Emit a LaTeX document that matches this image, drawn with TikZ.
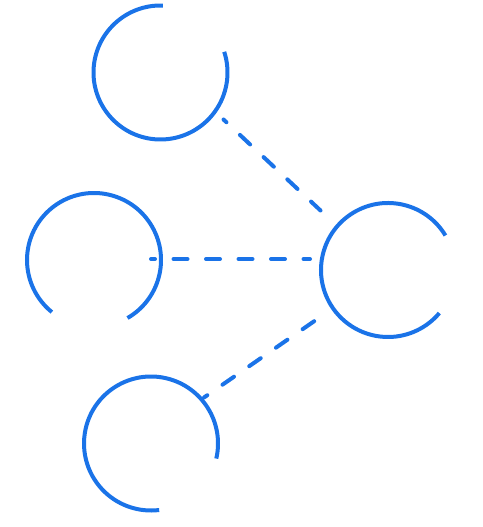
\documentclass[tikz,border=0pt]{standalone}
\usetikzlibrary{positioning}
\definecolor{ringblue}{HTML}{1A73E8}
\tikzset{
    ring/.style = {line width=3pt, draw=ringblue, line cap=butt},
    edgebd/.style = {-, line width=3pt, draw=ringblue, line cap=round, dash pattern=on 10.5pt off 13.875pt, dash phase=7.5pt}, % link
}
\begin{document}
\begin{tikzpicture}[x=0.75pt,y=0.75pt]
  \useasboundingbox (0,0) rectangle (482,-527);
  % ring centres
  \coordinate (ringtop) at (160.5,-72.5);
  \coordinate (ringleft) at (94,-260);
  \coordinate (ringright) at (388,-270);
  \coordinate (ringbottom) at (151,-443.5);
  % open rings
  \draw[ring] (ringtop) ++(88:67) arc[start angle=88, end angle=378, radius=50.25pt];
  \draw[ring] (ringleft) ++(-60:67) arc[start angle=-60, end angle=231, radius=50.25pt];
  \draw[ring] (ringright) ++(31:67) arc[start angle=31, end angle=320, radius=50.25pt];
  \draw[ring] (ringbottom) ++(-13:67) arc[start angle=-13, end angle=277, radius=50.25pt];
  % link ends
  \coordinate (topend) at (223.5,-119.5);
  \coordinate (righttop) at (320.5,-210.5);
  \coordinate (leftend) at (151,-259);
  \coordinate (rightmid) at (310,-259);
  \coordinate (bottomend) at (204,-397.5);
  \coordinate (rightlow) at (326,-313);
  % dashed links
  \draw[edgebd] (topend) -- (righttop);
  \draw[edgebd] (leftend) -- (rightmid);
  \draw[edgebd] (bottomend) -- (rightlow);
\end{tikzpicture}
\end{document}
